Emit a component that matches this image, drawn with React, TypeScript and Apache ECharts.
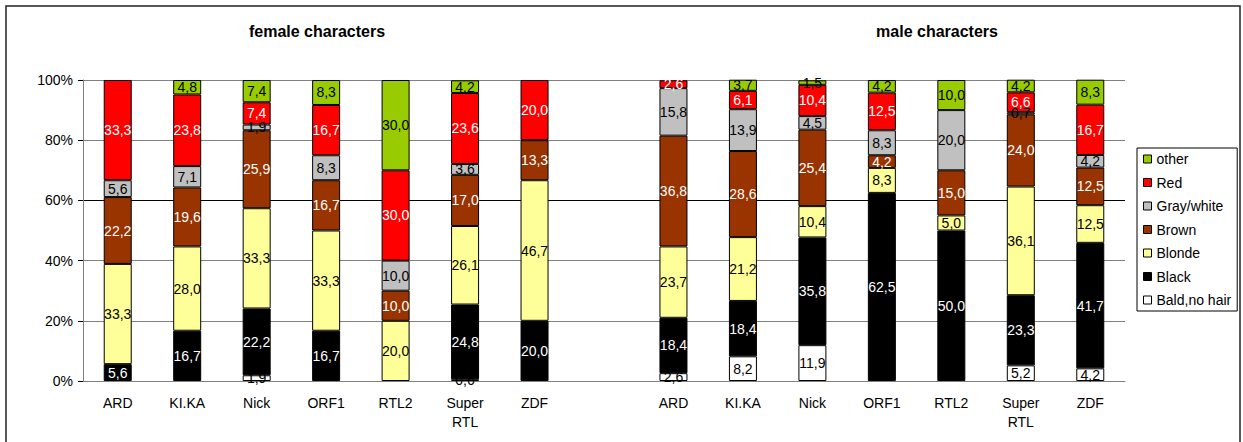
import React, { useEffect, useRef } from "react";
import * as echarts from "echarts";

const categories = ["ARD", "KI.KA", "Nick", "ORF1", "RTL2", "Super\nRTL", "ZDF", "", "ARD", "KI.KA", "Nick", "ORF1", "RTL2", "Super\nRTL", "ZDF"];

const seriesNames = ["Bald,no hair", "Black", "Blonde", "Brown", "Gray/white", "Red", "other"];
const seriesColors = ["#FFFFFF", "#000000", "#FFFF99", "#993300", "#C0C0C0", "#FF0000", "#99CC00"];
const labelColors = ["#000", "#fff", "#000", "#fff", "#000", "#fff", "#000"];

// female (7) + gap + male (7)
const bald = [0, 0, 1.9, 0, 0, 0.6, 0, 0, 2.6, 8.2, 11.9, 0, 0, 5.2, 4.2];
const black = [5.6, 16.7, 22.2, 16.7, 0, 24.8, 20.0, 0, 18.4, 18.4, 35.8, 62.5, 50.0, 23.3, 41.7];
const blonde = [33.3, 28.0, 33.3, 33.3, 20.0, 26.1, 46.7, 0, 23.7, 21.2, 10.4, 8.3, 5.0, 36.1, 12.5];
const brown = [22.2, 19.6, 25.9, 16.7, 10.0, 17.0, 13.3, 0, 36.8, 28.6, 25.4, 4.2, 15.0, 24.0, 12.5];
const gray = [5.6, 7.1, 1.9, 8.3, 10.0, 3.6, 0, 0, 15.8, 13.9, 4.5, 8.3, 20.0, 0.7, 4.2];
const red = [33.3, 23.8, 7.4, 16.7, 30.0, 23.6, 20.0, 0, 2.6, 6.1, 10.4, 12.5, 0, 6.6, 16.7];
const other = [0, 4.8, 7.4, 8.3, 30.0, 4.2, 0, 0, 0, 3.7, 1.5, 4.2, 10.0, 4.2, 8.3];

const seriesData = [bald, black, blonde, brown, gray, red, other];

const yTicks = [0, 20, 40, 60, 80, 100];
const titles = ["female characters", "male characters"];

const FONT = "'Liberation Sans', Arial, sans-serif";

export default function App() {
  const ref = useRef<HTMLDivElement>(null);
  useEffect(() => {
    document.body.style.margin = "0";
    const chart = echarts.init(ref.current!, null, { renderer: "svg" });
    const option: any = {
      animation: false,
      textStyle: { fontFamily: FONT },
      grid: { left: 83, right: 118, top: 80, bottom: 61, containLabel: false },
      xAxis: {
        type: "category",
        data: categories,
        axisLine: { lineStyle: { color: "#808080", width: 1 } },
        axisTick: { show: false },
        axisLabel: { color: "#000", fontSize: 14, fontFamily: FONT, margin: 12, lineHeight: 19, interval: 0 },
      },
      yAxis: {
        type: "value",
        min: 0,
        max: 100,
        interval: 20,
        axisLine: { show: true, lineStyle: { color: "#808080" } },
        axisTick: { show: true, length: 5, lineStyle: { color: "#000" } },
        axisLabel: { color: "#000", fontSize: 14, fontFamily: FONT, margin: 10, formatter: "{value}%" },
        splitLine: { lineStyle: { color: yTicks.map((t) => (t === 60 ? "#000" : "#808080")), width: 1 } },
      },
      legend: {
        orient: "vertical",
        left: 1137,
        top: 148,
        data: [...seriesNames].reverse(),
        itemWidth: 8,
        itemHeight: 8,
        itemGap: 9.5,
        itemStyle: { borderColor: "#000", borderWidth: 1 },
        icon: "rect",
        itemTextGap: 5,
        padding: [4, 6, 4, 6],
        borderColor: "#000",
        borderWidth: 1,
        textStyle: { color: "#000", fontSize: 14, fontFamily: FONT, lineHeight: 14 },
      },
      graphic: [
        {
          type: "rect",
          shape: { x: 6, y: 6, width: 1234, height: 460 },
          style: { fill: "none", stroke: "#222", lineWidth: 1.5 },
          silent: true,
        },
        {
          type: "text",
          x: 317,
          y: 31,
          style: { text: titles[0], font: `bold 16px ${FONT}`, fill: "#000", textAlign: "center", textVerticalAlign: "middle" },
        },
        {
          type: "text",
          x: 937,
          y: 31,
          style: { text: titles[1], font: `bold 16px ${FONT}`, fill: "#000", textAlign: "center", textVerticalAlign: "middle" },
        },
      ],
      series: seriesNames.map((name, i) => ({
        name,
        type: "bar",
        stack: "total",
        barWidth: 28,
        data: seriesData[i].map((v) => (v > 0 ? v : "-")),
        itemStyle: { color: seriesColors[i], borderColor: "#000", borderWidth: 1 },
        label: {
          show: true,
          position: "inside",
          color: labelColors[i],
          fontSize: 14,
          fontFamily: FONT,
          formatter: (p: any) => (p.value > 0 ? Number(p.value).toFixed(1).replace(".", ",") : ""),
        },
      })),
    };
    chart.setOption(option);
    return () => chart.dispose();
  }, []);
  return <div ref={ref} style={{ width: 1243, height: 442, position: "absolute", left: 0, top: 0 }} />;
}
